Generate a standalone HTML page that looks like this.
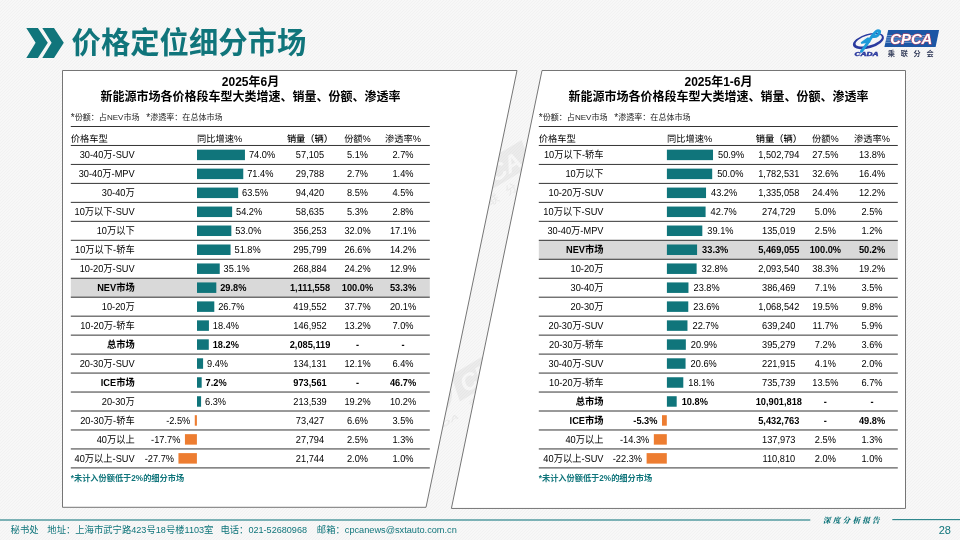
<!DOCTYPE html>
<html lang="zh-CN"><head><meta charset="utf-8"><title>价格定位细分市场</title>
<style>
html,body{margin:0;padding:0}
body{width:960px;height:540px;overflow:hidden;position:relative;background:#f4f4f4;font-family:"Liberation Sans","Noto Sans CJK SC",sans-serif;color:#000}
.bg{position:absolute;left:0;top:0;width:960px;height:540px;background:repeating-linear-gradient(135deg,#f2f2f2 0,#fafafa 1.0607px,#f2f2f2 2.1213px)}
.abs{position:absolute;white-space:nowrap}
.title{left:71.6px;top:21.75px;font-size:29.33px;line-height:42px;font-weight:bold;color:#10757b;transform:scaleY(1.02);transform-origin:0 50%}
.t1{font-size:12px;line-height:15px;font-weight:bold;text-align:center}
.sub{font-size:8.05px;line-height:12px;color:#222}
.as{font-size:10px;line-height:0;position:relative;top:0.8px}
.c{font-size:9.25px;transform:scaleY(1.1);text-rendering:geometricPrecision}
.h{font-size:9.25px;transform:none}
.hm{font-weight:500}
.b{font-weight:bold}
.fn{font-size:8.2px;line-height:12px;font-weight:bold;color:#10757b}
.foot{top:523px;font-size:9.33px;line-height:14px;color:#10757b}
.foot span{font-size:9.1px}
.rep{left:823px;top:513.5px;font-family:"Noto Serif CJK SC",serif;font-style:italic;font-weight:900;font-size:7.6px;line-height:12px;letter-spacing:2.2px;color:#10757b}
.pg{left:930px;width:21px;text-align:right;top:523px;font-size:11px;line-height:14px;color:#10757b}
</style></head><body>
<div class="bg"></div>
<svg class="abs" style="left:0;top:0" width="960" height="540" viewBox="0 0 960 540">
<defs>
<filter id="lb" x="-5%" y="-10%" width="110%" height="120%"><feGaussianBlur stdDeviation="0.35"/></filter>
<clipPath id="gap"><polygon points="515,70 545,70 454,508 424,508"/></clipPath>
</defs>
<polygon points="26.3,27.9 37.9,27.9 47.8,42.8 37.9,57.9 26.3,57.9 35.6,42.8" fill="#10757b"/>
<polygon points="42.3,27.9 54,27.9 63.8,42.8 54,57.9 42.3,57.9 51.6,42.8" fill="#10757b"/>
<g clip-path="url(#gap)">
<g transform="translate(473.2 193.2) rotate(-31.0) scale(1.60) translate(-896 -43)" opacity="0.052">
<g transform="rotate(-24 868.4 42.3)"><ellipse cx="868.4" cy="42.3" rx="15" ry="6.3" fill="none" stroke="#222" stroke-width="2.4"/></g>
<text x="854.6" y="55.6" font-family="Liberation Sans,sans-serif" font-weight="bold" font-style="italic" font-size="4.6" textLength="24.5" lengthAdjust="spacingAndGlyphs" fill="#222">CADA</text>
<polygon points="888.2,30.1 939.1,30.1 935.6,47 884.4,47" fill="#222"/>
<text x="890.3" y="44.3" font-family="Liberation Sans,sans-serif" font-weight="bold" font-style="italic" font-size="14.6" textLength="42" lengthAdjust="spacingAndGlyphs" fill="#fff">CPCA</text>
<text x="888.3" y="55.5" font-family="Noto Sans CJK SC,sans-serif" font-weight="500" font-size="7.2" letter-spacing="5.7" fill="#222">乘联分会</text>
</g>
<g transform="translate(472.5 386.5) rotate(-31.0) scale(1.60) translate(-896 -43)" opacity="0.052">
<g transform="rotate(-24 868.4 42.3)"><ellipse cx="868.4" cy="42.3" rx="15" ry="6.3" fill="none" stroke="#222" stroke-width="2.4"/></g>
<text x="854.6" y="55.6" font-family="Liberation Sans,sans-serif" font-weight="bold" font-style="italic" font-size="4.6" textLength="24.5" lengthAdjust="spacingAndGlyphs" fill="#222">CADA</text>
<polygon points="888.2,30.1 939.1,30.1 935.6,47 884.4,47" fill="#222"/>
<text x="890.3" y="44.3" font-family="Liberation Sans,sans-serif" font-weight="bold" font-style="italic" font-size="14.6" textLength="42" lengthAdjust="spacingAndGlyphs" fill="#fff">CPCA</text>
<text x="888.3" y="55.5" font-family="Noto Sans CJK SC,sans-serif" font-weight="500" font-size="7.2" letter-spacing="5.7" fill="#222">乘联分会</text>
</g>
</g>
<polygon points="62.5,70.5 517,70.5 426,507.3 62.5,507.3" fill="#fff" stroke="#757575" stroke-width="1"/>
<polygon points="542,70.5 905.5,70.5 905.5,508.45 451.4,508.45" fill="#fff" stroke="#757575" stroke-width="1"/>
<rect x="0" y="519.45" width="810.3" height="1.1" fill="#1a7c82"/>
<rect x="892.3" y="519.1" width="68" height="1.05" fill="#1a7c82"/>
<g filter="url(#lb)">
<g transform="rotate(-16 868.4 41.1)"><path fill-rule="evenodd" fill="#2b3a9f" d="M852.4,41.1 a16,7.2 0 1,0 32,0 a16,7.2 0 1,0 -32,0 z M855.3,40.5 a13.6,5 0 1,0 27.2,0 a13.6,5 0 1,0 -27.2,0 z"/></g>
<path d="M861.4,51.3 L866.2,45.2 C868.5,41.5 871,37.5 873.8,34 C875.5,31.8 877.6,30.4 878.9,30.9 C880.3,31.5 879.6,33.6 877.6,35.3 C876.3,36.4 875,36.8 873.6,36.6" fill="none" stroke="#1f9ad8" stroke-width="2.9" stroke-linecap="round" stroke-linejoin="round"/>
<path d="M868,38.4 L861.8,42.8 L869.4,41.7 Z" fill="#1f9ad8" stroke="#1f9ad8" stroke-width="2" stroke-linecap="round" stroke-linejoin="round"/>
<text x="854.6" y="55.6" font-family="Liberation Sans,sans-serif" font-weight="bold" font-style="italic" font-size="4.6" textLength="24" lengthAdjust="spacingAndGlyphs" fill="#2b3a9f" stroke="#2b3a9f" stroke-width="0.35">CADA</text>
<polygon points="888.2,30.1 939.1,30.1 935.6,47 884.4,47" fill="#1b57a5"/>
<g stroke="#b9d3f0" stroke-width="0.75" opacity="0.8">
<line x1="887" x2="926" y1="35.6" y2="35.6"/><line x1="886.5" x2="930" y1="37.8" y2="37.8"/><line x1="886" x2="930" y1="40" y2="40"/><line x1="885.5" x2="922" y1="42.3" y2="42.3"/>
</g>
<text x="890.3" y="44.3" font-family="Liberation Sans,sans-serif" font-weight="bold" font-style="italic" font-size="14.6" textLength="42" lengthAdjust="spacingAndGlyphs" fill="#fff" stroke="#e0455c" stroke-width="0.9" paint-order="stroke">CPCA</text>
<text x="887.8" y="55.5" font-family="Noto Sans CJK SC,sans-serif" font-weight="bold" font-size="7.2" letter-spacing="5.7" fill="#363f5c">乘联分会</text>
</g>
</svg>
<div class="abs title">价格定位细分市场</div>
<svg class="abs" style="left:0;top:0" width="960" height="540" viewBox="0 0 960 540">
<rect x="70.8" y="278.24" width="359.0" height="18.97" fill="#d9d9d9"/>
<line x1="70.8" x2="429.8" y1="126.50" y2="126.50" stroke="#000" stroke-width="0.80"/>
<line x1="70.8" x2="429.8" y1="145.47" y2="145.47" stroke="#000" stroke-width="0.80"/>
<line x1="70.8" x2="429.8" y1="164.43" y2="164.43" stroke="#000" stroke-width="0.80"/>
<line x1="70.8" x2="429.8" y1="183.40" y2="183.40" stroke="#000" stroke-width="0.80"/>
<line x1="70.8" x2="429.8" y1="202.37" y2="202.37" stroke="#000" stroke-width="0.80"/>
<line x1="70.8" x2="429.8" y1="221.33" y2="221.33" stroke="#000" stroke-width="0.80"/>
<line x1="70.8" x2="429.8" y1="240.30" y2="240.30" stroke="#000" stroke-width="0.80"/>
<line x1="70.8" x2="429.8" y1="259.27" y2="259.27" stroke="#000" stroke-width="0.80"/>
<line x1="70.8" x2="429.8" y1="278.24" y2="278.24" stroke="#000" stroke-width="0.80"/>
<line x1="70.8" x2="429.8" y1="297.20" y2="297.20" stroke="#000" stroke-width="0.80"/>
<line x1="70.8" x2="429.8" y1="316.17" y2="316.17" stroke="#000" stroke-width="0.80"/>
<line x1="70.8" x2="429.8" y1="335.14" y2="335.14" stroke="#000" stroke-width="0.80"/>
<line x1="70.8" x2="429.8" y1="354.10" y2="354.10" stroke="#000" stroke-width="0.80"/>
<line x1="70.8" x2="429.8" y1="373.07" y2="373.07" stroke="#000" stroke-width="0.80"/>
<line x1="70.8" x2="429.8" y1="392.04" y2="392.04" stroke="#000" stroke-width="0.80"/>
<line x1="70.8" x2="429.8" y1="411.00" y2="411.00" stroke="#000" stroke-width="0.80"/>
<line x1="70.8" x2="429.8" y1="429.97" y2="429.97" stroke="#000" stroke-width="0.80"/>
<line x1="70.8" x2="429.8" y1="448.94" y2="448.94" stroke="#000" stroke-width="0.80"/>
<line x1="70.8" x2="429.8" y1="467.91" y2="467.91" stroke="#000" stroke-width="0.80"/>
<rect x="197.00" y="149.65" width="47.95" height="10.5" fill="#10757b"/>
<rect x="197.00" y="168.62" width="46.27" height="10.5" fill="#10757b"/>
<rect x="197.00" y="187.58" width="41.15" height="10.5" fill="#10757b"/>
<rect x="197.00" y="206.55" width="35.12" height="10.5" fill="#10757b"/>
<rect x="197.00" y="225.52" width="34.34" height="10.5" fill="#10757b"/>
<rect x="197.00" y="244.49" width="33.57" height="10.5" fill="#10757b"/>
<rect x="197.00" y="263.45" width="22.74" height="10.5" fill="#10757b"/>
<rect x="197.00" y="282.42" width="19.31" height="10.5" fill="#10757b"/>
<rect x="197.00" y="301.39" width="17.30" height="10.5" fill="#10757b"/>
<rect x="197.00" y="320.35" width="11.92" height="10.5" fill="#10757b"/>
<rect x="197.00" y="339.32" width="11.79" height="10.5" fill="#10757b"/>
<rect x="197.00" y="358.29" width="6.09" height="10.5" fill="#10757b"/>
<rect x="197.00" y="377.25" width="4.67" height="10.5" fill="#10757b"/>
<rect x="197.00" y="396.22" width="4.08" height="10.5" fill="#10757b"/>
<rect x="194.78" y="415.19" width="2.12" height="10.5" fill="#ed7d31"/>
<rect x="184.93" y="434.16" width="11.97" height="10.5" fill="#ed7d31"/>
<rect x="178.45" y="453.12" width="18.45" height="10.5" fill="#ed7d31"/>
</svg>
<div class="abs t1" style="left:250.5px;top:75px;width:300px;margin-left:-150px">2025年6月</div>
<div class="abs t1" style="left:250.5px;top:89.7px;width:340px;margin-left:-170px">新能源市场各价格段车型大类增速、销量、份额、渗透率</div>
<div class="abs sub" style="left:70.8px;top:112.3px"><span class="as">*</span>份额：占NEV市场&nbsp;&nbsp;&nbsp;<span class="as">*</span>渗透率：在总体市场</div>
<div class="abs c h" style="left:70.8px;top:129.50px;height:18.97px;line-height:18.97px">价格车型</div>
<div class="abs c h" style="left:197.0px;top:129.50px;height:18.97px;line-height:18.97px">同比增速%</div>
<div class="abs c h hm" style="left:270.0px;width:80px;text-align:center;top:129.50px;height:18.97px;line-height:18.97px">销量（辆）</div>
<div class="abs c h" style="left:317.5px;width:80px;text-align:center;top:129.50px;height:18.97px;line-height:18.97px">份额%</div>
<div class="abs c h" style="left:363.0px;width:80px;text-align:center;top:129.50px;height:18.97px;line-height:18.97px">渗透率%</div>
<div class="abs c d" style="left:44.7px;width:90px;text-align:right;top:146.27px;height:18.97px;line-height:18.97px">30-40万-SUV</div>
<div class="abs c d" style="left:248.9px;top:146.27px;height:18.97px;line-height:18.97px">74.0%</div>
<div class="abs c d" style="left:270.0px;width:80px;text-align:center;top:146.27px;height:18.97px;line-height:18.97px">57,105</div>
<div class="abs c d" style="left:317.5px;width:80px;text-align:center;top:146.27px;height:18.97px;line-height:18.97px">5.1%</div>
<div class="abs c d" style="left:363.0px;width:80px;text-align:center;top:146.27px;height:18.97px;line-height:18.97px">2.7%</div>
<div class="abs c d" style="left:44.7px;width:90px;text-align:right;top:165.23px;height:18.97px;line-height:18.97px">30-40万-MPV</div>
<div class="abs c d" style="left:247.2px;top:165.23px;height:18.97px;line-height:18.97px">71.4%</div>
<div class="abs c d" style="left:270.0px;width:80px;text-align:center;top:165.23px;height:18.97px;line-height:18.97px">29,788</div>
<div class="abs c d" style="left:317.5px;width:80px;text-align:center;top:165.23px;height:18.97px;line-height:18.97px">2.7%</div>
<div class="abs c d" style="left:363.0px;width:80px;text-align:center;top:165.23px;height:18.97px;line-height:18.97px">1.4%</div>
<div class="abs c d" style="left:44.7px;width:90px;text-align:right;top:184.20px;height:18.97px;line-height:18.97px">30-40万</div>
<div class="abs c d" style="left:242.0px;top:184.20px;height:18.97px;line-height:18.97px">63.5%</div>
<div class="abs c d" style="left:270.0px;width:80px;text-align:center;top:184.20px;height:18.97px;line-height:18.97px">94,420</div>
<div class="abs c d" style="left:317.5px;width:80px;text-align:center;top:184.20px;height:18.97px;line-height:18.97px">8.5%</div>
<div class="abs c d" style="left:363.0px;width:80px;text-align:center;top:184.20px;height:18.97px;line-height:18.97px">4.5%</div>
<div class="abs c d" style="left:44.7px;width:90px;text-align:right;top:203.17px;height:18.97px;line-height:18.97px">10万以下-SUV</div>
<div class="abs c d" style="left:236.0px;top:203.17px;height:18.97px;line-height:18.97px">54.2%</div>
<div class="abs c d" style="left:270.0px;width:80px;text-align:center;top:203.17px;height:18.97px;line-height:18.97px">58,635</div>
<div class="abs c d" style="left:317.5px;width:80px;text-align:center;top:203.17px;height:18.97px;line-height:18.97px">5.3%</div>
<div class="abs c d" style="left:363.0px;width:80px;text-align:center;top:203.17px;height:18.97px;line-height:18.97px">2.8%</div>
<div class="abs c d" style="left:44.7px;width:90px;text-align:right;top:222.13px;height:18.97px;line-height:18.97px">10万以下</div>
<div class="abs c d" style="left:235.2px;top:222.13px;height:18.97px;line-height:18.97px">53.0%</div>
<div class="abs c d" style="left:270.0px;width:80px;text-align:center;top:222.13px;height:18.97px;line-height:18.97px">356,253</div>
<div class="abs c d" style="left:317.5px;width:80px;text-align:center;top:222.13px;height:18.97px;line-height:18.97px">32.0%</div>
<div class="abs c d" style="left:363.0px;width:80px;text-align:center;top:222.13px;height:18.97px;line-height:18.97px">17.1%</div>
<div class="abs c d" style="left:44.7px;width:90px;text-align:right;top:241.10px;height:18.97px;line-height:18.97px">10万以下-轿车</div>
<div class="abs c d" style="left:234.5px;top:241.10px;height:18.97px;line-height:18.97px">51.8%</div>
<div class="abs c d" style="left:270.0px;width:80px;text-align:center;top:241.10px;height:18.97px;line-height:18.97px">295,799</div>
<div class="abs c d" style="left:317.5px;width:80px;text-align:center;top:241.10px;height:18.97px;line-height:18.97px">26.6%</div>
<div class="abs c d" style="left:363.0px;width:80px;text-align:center;top:241.10px;height:18.97px;line-height:18.97px">14.2%</div>
<div class="abs c d" style="left:44.7px;width:90px;text-align:right;top:260.07px;height:18.97px;line-height:18.97px">10-20万-SUV</div>
<div class="abs c d" style="left:223.6px;top:260.07px;height:18.97px;line-height:18.97px">35.1%</div>
<div class="abs c d" style="left:270.0px;width:80px;text-align:center;top:260.07px;height:18.97px;line-height:18.97px">268,884</div>
<div class="abs c d" style="left:317.5px;width:80px;text-align:center;top:260.07px;height:18.97px;line-height:18.97px">24.2%</div>
<div class="abs c d" style="left:363.0px;width:80px;text-align:center;top:260.07px;height:18.97px;line-height:18.97px">12.9%</div>
<div class="abs c d b" style="left:44.7px;width:90px;text-align:right;top:279.04px;height:18.97px;line-height:18.97px">NEV市场</div>
<div class="abs c d b" style="left:220.2px;top:279.04px;height:18.97px;line-height:18.97px">29.8%</div>
<div class="abs c d b" style="left:270.0px;width:80px;text-align:center;top:279.04px;height:18.97px;line-height:18.97px">1,111,558</div>
<div class="abs c d b" style="left:317.5px;width:80px;text-align:center;top:279.04px;height:18.97px;line-height:18.97px">100.0%</div>
<div class="abs c d b" style="left:363.0px;width:80px;text-align:center;top:279.04px;height:18.97px;line-height:18.97px">53.3%</div>
<div class="abs c d" style="left:44.7px;width:90px;text-align:right;top:298.00px;height:18.97px;line-height:18.97px">10-20万</div>
<div class="abs c d" style="left:218.2px;top:298.00px;height:18.97px;line-height:18.97px">26.7%</div>
<div class="abs c d" style="left:270.0px;width:80px;text-align:center;top:298.00px;height:18.97px;line-height:18.97px">419,552</div>
<div class="abs c d" style="left:317.5px;width:80px;text-align:center;top:298.00px;height:18.97px;line-height:18.97px">37.7%</div>
<div class="abs c d" style="left:363.0px;width:80px;text-align:center;top:298.00px;height:18.97px;line-height:18.97px">20.1%</div>
<div class="abs c d" style="left:44.7px;width:90px;text-align:right;top:316.97px;height:18.97px;line-height:18.97px">10-20万-轿车</div>
<div class="abs c d" style="left:212.8px;top:316.97px;height:18.97px;line-height:18.97px">18.4%</div>
<div class="abs c d" style="left:270.0px;width:80px;text-align:center;top:316.97px;height:18.97px;line-height:18.97px">146,952</div>
<div class="abs c d" style="left:317.5px;width:80px;text-align:center;top:316.97px;height:18.97px;line-height:18.97px">13.2%</div>
<div class="abs c d" style="left:363.0px;width:80px;text-align:center;top:316.97px;height:18.97px;line-height:18.97px">7.0%</div>
<div class="abs c d b" style="left:44.7px;width:90px;text-align:right;top:335.94px;height:18.97px;line-height:18.97px">总市场</div>
<div class="abs c d b" style="left:212.7px;top:335.94px;height:18.97px;line-height:18.97px">18.2%</div>
<div class="abs c d b" style="left:270.0px;width:80px;text-align:center;top:335.94px;height:18.97px;line-height:18.97px">2,085,119</div>
<div class="abs c d b" style="left:317.5px;width:80px;text-align:center;top:335.94px;height:18.97px;line-height:18.97px">-</div>
<div class="abs c d b" style="left:363.0px;width:80px;text-align:center;top:335.94px;height:18.97px;line-height:18.97px">-</div>
<div class="abs c d" style="left:44.7px;width:90px;text-align:right;top:354.90px;height:18.97px;line-height:18.97px">20-30万-SUV</div>
<div class="abs c d" style="left:207.0px;top:354.90px;height:18.97px;line-height:18.97px">9.4%</div>
<div class="abs c d" style="left:270.0px;width:80px;text-align:center;top:354.90px;height:18.97px;line-height:18.97px">134,131</div>
<div class="abs c d" style="left:317.5px;width:80px;text-align:center;top:354.90px;height:18.97px;line-height:18.97px">12.1%</div>
<div class="abs c d" style="left:363.0px;width:80px;text-align:center;top:354.90px;height:18.97px;line-height:18.97px">6.4%</div>
<div class="abs c d b" style="left:44.7px;width:90px;text-align:right;top:373.87px;height:18.97px;line-height:18.97px">ICE市场</div>
<div class="abs c d b" style="left:205.6px;top:373.87px;height:18.97px;line-height:18.97px">7.2%</div>
<div class="abs c d b" style="left:270.0px;width:80px;text-align:center;top:373.87px;height:18.97px;line-height:18.97px">973,561</div>
<div class="abs c d b" style="left:317.5px;width:80px;text-align:center;top:373.87px;height:18.97px;line-height:18.97px">-</div>
<div class="abs c d b" style="left:363.0px;width:80px;text-align:center;top:373.87px;height:18.97px;line-height:18.97px">46.7%</div>
<div class="abs c d" style="left:44.7px;width:90px;text-align:right;top:392.84px;height:18.97px;line-height:18.97px">20-30万</div>
<div class="abs c d" style="left:205.0px;top:392.84px;height:18.97px;line-height:18.97px">6.3%</div>
<div class="abs c d" style="left:270.0px;width:80px;text-align:center;top:392.84px;height:18.97px;line-height:18.97px">213,539</div>
<div class="abs c d" style="left:317.5px;width:80px;text-align:center;top:392.84px;height:18.97px;line-height:18.97px">19.2%</div>
<div class="abs c d" style="left:363.0px;width:80px;text-align:center;top:392.84px;height:18.97px;line-height:18.97px">10.2%</div>
<div class="abs c d" style="left:44.7px;width:90px;text-align:right;top:411.81px;height:18.97px;line-height:18.97px">20-30万-轿车</div>
<div class="abs c d" style="left:130.3px;width:60px;text-align:right;top:411.81px;height:18.97px;line-height:18.97px">-2.5%</div>
<div class="abs c d" style="left:270.0px;width:80px;text-align:center;top:411.81px;height:18.97px;line-height:18.97px">73,427</div>
<div class="abs c d" style="left:317.5px;width:80px;text-align:center;top:411.81px;height:18.97px;line-height:18.97px">6.6%</div>
<div class="abs c d" style="left:363.0px;width:80px;text-align:center;top:411.81px;height:18.97px;line-height:18.97px">3.5%</div>
<div class="abs c d" style="left:44.7px;width:90px;text-align:right;top:430.77px;height:18.97px;line-height:18.97px">40万以上</div>
<div class="abs c d" style="left:120.4px;width:60px;text-align:right;top:430.77px;height:18.97px;line-height:18.97px">-17.7%</div>
<div class="abs c d" style="left:270.0px;width:80px;text-align:center;top:430.77px;height:18.97px;line-height:18.97px">27,794</div>
<div class="abs c d" style="left:317.5px;width:80px;text-align:center;top:430.77px;height:18.97px;line-height:18.97px">2.5%</div>
<div class="abs c d" style="left:363.0px;width:80px;text-align:center;top:430.77px;height:18.97px;line-height:18.97px">1.3%</div>
<div class="abs c d" style="left:44.7px;width:90px;text-align:right;top:449.74px;height:18.97px;line-height:18.97px">40万以上-SUV</div>
<div class="abs c d" style="left:114.0px;width:60px;text-align:right;top:449.74px;height:18.97px;line-height:18.97px">-27.7%</div>
<div class="abs c d" style="left:270.0px;width:80px;text-align:center;top:449.74px;height:18.97px;line-height:18.97px">21,744</div>
<div class="abs c d" style="left:317.5px;width:80px;text-align:center;top:449.74px;height:18.97px;line-height:18.97px">2.0%</div>
<div class="abs c d" style="left:363.0px;width:80px;text-align:center;top:449.74px;height:18.97px;line-height:18.97px">1.0%</div>
<div class="abs fn" style="left:70.8px;top:472.9px">*未计入份额低于2%的细分市场</div>
<svg class="abs" style="left:0;top:0" width="960" height="540" viewBox="0 0 960 540">
<rect x="538.8" y="240.30" width="359.0" height="18.97" fill="#d9d9d9"/>
<line x1="538.8" x2="897.8" y1="126.50" y2="126.50" stroke="#000" stroke-width="0.80"/>
<line x1="538.8" x2="897.8" y1="145.47" y2="145.47" stroke="#000" stroke-width="0.80"/>
<line x1="538.8" x2="897.8" y1="164.43" y2="164.43" stroke="#000" stroke-width="0.80"/>
<line x1="538.8" x2="897.8" y1="183.40" y2="183.40" stroke="#000" stroke-width="0.80"/>
<line x1="538.8" x2="897.8" y1="202.37" y2="202.37" stroke="#000" stroke-width="0.80"/>
<line x1="538.8" x2="897.8" y1="221.33" y2="221.33" stroke="#000" stroke-width="0.80"/>
<line x1="538.8" x2="897.8" y1="240.30" y2="240.30" stroke="#000" stroke-width="0.80"/>
<line x1="538.8" x2="897.8" y1="259.27" y2="259.27" stroke="#000" stroke-width="0.80"/>
<line x1="538.8" x2="897.8" y1="278.24" y2="278.24" stroke="#000" stroke-width="0.80"/>
<line x1="538.8" x2="897.8" y1="297.20" y2="297.20" stroke="#000" stroke-width="0.80"/>
<line x1="538.8" x2="897.8" y1="316.17" y2="316.17" stroke="#000" stroke-width="0.80"/>
<line x1="538.8" x2="897.8" y1="335.14" y2="335.14" stroke="#000" stroke-width="0.80"/>
<line x1="538.8" x2="897.8" y1="354.10" y2="354.10" stroke="#000" stroke-width="0.80"/>
<line x1="538.8" x2="897.8" y1="373.07" y2="373.07" stroke="#000" stroke-width="0.80"/>
<line x1="538.8" x2="897.8" y1="392.04" y2="392.04" stroke="#000" stroke-width="0.80"/>
<line x1="538.8" x2="897.8" y1="411.00" y2="411.00" stroke="#000" stroke-width="0.80"/>
<line x1="538.8" x2="897.8" y1="429.97" y2="429.97" stroke="#000" stroke-width="0.80"/>
<line x1="538.8" x2="897.8" y1="448.94" y2="448.94" stroke="#000" stroke-width="0.80"/>
<line x1="538.8" x2="897.8" y1="467.91" y2="467.91" stroke="#000" stroke-width="0.80"/>
<rect x="666.90" y="149.65" width="46.12" height="10.5" fill="#10757b"/>
<rect x="666.90" y="168.62" width="45.30" height="10.5" fill="#10757b"/>
<rect x="666.90" y="187.58" width="39.14" height="10.5" fill="#10757b"/>
<rect x="666.90" y="206.55" width="38.69" height="10.5" fill="#10757b"/>
<rect x="666.90" y="225.52" width="35.42" height="10.5" fill="#10757b"/>
<rect x="666.90" y="244.49" width="30.17" height="10.5" fill="#10757b"/>
<rect x="666.90" y="263.45" width="29.72" height="10.5" fill="#10757b"/>
<rect x="666.90" y="282.42" width="21.56" height="10.5" fill="#10757b"/>
<rect x="666.90" y="301.39" width="21.38" height="10.5" fill="#10757b"/>
<rect x="666.90" y="320.35" width="20.57" height="10.5" fill="#10757b"/>
<rect x="666.90" y="339.32" width="18.94" height="10.5" fill="#10757b"/>
<rect x="666.90" y="358.29" width="18.66" height="10.5" fill="#10757b"/>
<rect x="666.90" y="377.25" width="16.40" height="10.5" fill="#10757b"/>
<rect x="666.90" y="396.22" width="9.78" height="10.5" fill="#10757b"/>
<rect x="662.00" y="415.19" width="4.80" height="10.5" fill="#ed7d31"/>
<rect x="653.84" y="434.16" width="12.96" height="10.5" fill="#ed7d31"/>
<rect x="646.60" y="453.12" width="20.20" height="10.5" fill="#ed7d31"/>
</svg>
<div class="abs t1" style="left:718.5px;top:75px;width:300px;margin-left:-150px">2025年1-6月</div>
<div class="abs t1" style="left:718.5px;top:89.7px;width:340px;margin-left:-170px">新能源市场各价格段车型大类增速、销量、份额、渗透率</div>
<div class="abs sub" style="left:538.8px;top:112.3px"><span class="as">*</span>份额：占NEV市场&nbsp;&nbsp;&nbsp;<span class="as">*</span>渗透率：在总体市场</div>
<div class="abs c h" style="left:538.8px;top:129.50px;height:18.97px;line-height:18.97px">价格车型</div>
<div class="abs c h" style="left:666.9px;top:129.50px;height:18.97px;line-height:18.97px">同比增速%</div>
<div class="abs c h hm" style="left:738.8px;width:80px;text-align:center;top:129.50px;height:18.97px;line-height:18.97px">销量（辆）</div>
<div class="abs c h" style="left:785.4px;width:80px;text-align:center;top:129.50px;height:18.97px;line-height:18.97px">份额%</div>
<div class="abs c h" style="left:832.0px;width:80px;text-align:center;top:129.50px;height:18.97px;line-height:18.97px">渗透率%</div>
<div class="abs c d" style="left:513.5px;width:90px;text-align:right;top:146.27px;height:18.97px;line-height:18.97px">10万以下-轿车</div>
<div class="abs c d" style="left:718.0px;top:146.27px;height:18.97px;line-height:18.97px">50.9%</div>
<div class="abs c d" style="left:738.8px;width:80px;text-align:center;top:146.27px;height:18.97px;line-height:18.97px">1,502,794</div>
<div class="abs c d" style="left:785.4px;width:80px;text-align:center;top:146.27px;height:18.97px;line-height:18.97px">27.5%</div>
<div class="abs c d" style="left:832.0px;width:80px;text-align:center;top:146.27px;height:18.97px;line-height:18.97px">13.8%</div>
<div class="abs c d" style="left:513.5px;width:90px;text-align:right;top:165.23px;height:18.97px;line-height:18.97px">10万以下</div>
<div class="abs c d" style="left:717.2px;top:165.23px;height:18.97px;line-height:18.97px">50.0%</div>
<div class="abs c d" style="left:738.8px;width:80px;text-align:center;top:165.23px;height:18.97px;line-height:18.97px">1,782,531</div>
<div class="abs c d" style="left:785.4px;width:80px;text-align:center;top:165.23px;height:18.97px;line-height:18.97px">32.6%</div>
<div class="abs c d" style="left:832.0px;width:80px;text-align:center;top:165.23px;height:18.97px;line-height:18.97px">16.4%</div>
<div class="abs c d" style="left:513.5px;width:90px;text-align:right;top:184.20px;height:18.97px;line-height:18.97px">10-20万-SUV</div>
<div class="abs c d" style="left:711.0px;top:184.20px;height:18.97px;line-height:18.97px">43.2%</div>
<div class="abs c d" style="left:738.8px;width:80px;text-align:center;top:184.20px;height:18.97px;line-height:18.97px">1,335,058</div>
<div class="abs c d" style="left:785.4px;width:80px;text-align:center;top:184.20px;height:18.97px;line-height:18.97px">24.4%</div>
<div class="abs c d" style="left:832.0px;width:80px;text-align:center;top:184.20px;height:18.97px;line-height:18.97px">12.2%</div>
<div class="abs c d" style="left:513.5px;width:90px;text-align:right;top:203.17px;height:18.97px;line-height:18.97px">10万以下-SUV</div>
<div class="abs c d" style="left:710.6px;top:203.17px;height:18.97px;line-height:18.97px">42.7%</div>
<div class="abs c d" style="left:738.8px;width:80px;text-align:center;top:203.17px;height:18.97px;line-height:18.97px">274,729</div>
<div class="abs c d" style="left:785.4px;width:80px;text-align:center;top:203.17px;height:18.97px;line-height:18.97px">5.0%</div>
<div class="abs c d" style="left:832.0px;width:80px;text-align:center;top:203.17px;height:18.97px;line-height:18.97px">2.5%</div>
<div class="abs c d" style="left:513.5px;width:90px;text-align:right;top:222.13px;height:18.97px;line-height:18.97px">30-40万-MPV</div>
<div class="abs c d" style="left:707.3px;top:222.13px;height:18.97px;line-height:18.97px">39.1%</div>
<div class="abs c d" style="left:738.8px;width:80px;text-align:center;top:222.13px;height:18.97px;line-height:18.97px">135,019</div>
<div class="abs c d" style="left:785.4px;width:80px;text-align:center;top:222.13px;height:18.97px;line-height:18.97px">2.5%</div>
<div class="abs c d" style="left:832.0px;width:80px;text-align:center;top:222.13px;height:18.97px;line-height:18.97px">1.2%</div>
<div class="abs c d b" style="left:513.5px;width:90px;text-align:right;top:241.10px;height:18.97px;line-height:18.97px">NEV市场</div>
<div class="abs c d b" style="left:702.1px;top:241.10px;height:18.97px;line-height:18.97px">33.3%</div>
<div class="abs c d b" style="left:738.8px;width:80px;text-align:center;top:241.10px;height:18.97px;line-height:18.97px">5,469,055</div>
<div class="abs c d b" style="left:785.4px;width:80px;text-align:center;top:241.10px;height:18.97px;line-height:18.97px">100.0%</div>
<div class="abs c d b" style="left:832.0px;width:80px;text-align:center;top:241.10px;height:18.97px;line-height:18.97px">50.2%</div>
<div class="abs c d" style="left:513.5px;width:90px;text-align:right;top:260.07px;height:18.97px;line-height:18.97px">10-20万</div>
<div class="abs c d" style="left:701.6px;top:260.07px;height:18.97px;line-height:18.97px">32.8%</div>
<div class="abs c d" style="left:738.8px;width:80px;text-align:center;top:260.07px;height:18.97px;line-height:18.97px">2,093,540</div>
<div class="abs c d" style="left:785.4px;width:80px;text-align:center;top:260.07px;height:18.97px;line-height:18.97px">38.3%</div>
<div class="abs c d" style="left:832.0px;width:80px;text-align:center;top:260.07px;height:18.97px;line-height:18.97px">19.2%</div>
<div class="abs c d" style="left:513.5px;width:90px;text-align:right;top:279.04px;height:18.97px;line-height:18.97px">30-40万</div>
<div class="abs c d" style="left:693.5px;top:279.04px;height:18.97px;line-height:18.97px">23.8%</div>
<div class="abs c d" style="left:738.8px;width:80px;text-align:center;top:279.04px;height:18.97px;line-height:18.97px">386,469</div>
<div class="abs c d" style="left:785.4px;width:80px;text-align:center;top:279.04px;height:18.97px;line-height:18.97px">7.1%</div>
<div class="abs c d" style="left:832.0px;width:80px;text-align:center;top:279.04px;height:18.97px;line-height:18.97px">3.5%</div>
<div class="abs c d" style="left:513.5px;width:90px;text-align:right;top:298.00px;height:18.97px;line-height:18.97px">20-30万</div>
<div class="abs c d" style="left:693.3px;top:298.00px;height:18.97px;line-height:18.97px">23.6%</div>
<div class="abs c d" style="left:738.8px;width:80px;text-align:center;top:298.00px;height:18.97px;line-height:18.97px">1,068,542</div>
<div class="abs c d" style="left:785.4px;width:80px;text-align:center;top:298.00px;height:18.97px;line-height:18.97px">19.5%</div>
<div class="abs c d" style="left:832.0px;width:80px;text-align:center;top:298.00px;height:18.97px;line-height:18.97px">9.8%</div>
<div class="abs c d" style="left:513.5px;width:90px;text-align:right;top:316.97px;height:18.97px;line-height:18.97px">20-30万-SUV</div>
<div class="abs c d" style="left:692.5px;top:316.97px;height:18.97px;line-height:18.97px">22.7%</div>
<div class="abs c d" style="left:738.8px;width:80px;text-align:center;top:316.97px;height:18.97px;line-height:18.97px">639,240</div>
<div class="abs c d" style="left:785.4px;width:80px;text-align:center;top:316.97px;height:18.97px;line-height:18.97px">11.7%</div>
<div class="abs c d" style="left:832.0px;width:80px;text-align:center;top:316.97px;height:18.97px;line-height:18.97px">5.9%</div>
<div class="abs c d" style="left:513.5px;width:90px;text-align:right;top:335.94px;height:18.97px;line-height:18.97px">20-30万-轿车</div>
<div class="abs c d" style="left:690.8px;top:335.94px;height:18.97px;line-height:18.97px">20.9%</div>
<div class="abs c d" style="left:738.8px;width:80px;text-align:center;top:335.94px;height:18.97px;line-height:18.97px">395,279</div>
<div class="abs c d" style="left:785.4px;width:80px;text-align:center;top:335.94px;height:18.97px;line-height:18.97px">7.2%</div>
<div class="abs c d" style="left:832.0px;width:80px;text-align:center;top:335.94px;height:18.97px;line-height:18.97px">3.6%</div>
<div class="abs c d" style="left:513.5px;width:90px;text-align:right;top:354.90px;height:18.97px;line-height:18.97px">30-40万-SUV</div>
<div class="abs c d" style="left:690.6px;top:354.90px;height:18.97px;line-height:18.97px">20.6%</div>
<div class="abs c d" style="left:738.8px;width:80px;text-align:center;top:354.90px;height:18.97px;line-height:18.97px">221,915</div>
<div class="abs c d" style="left:785.4px;width:80px;text-align:center;top:354.90px;height:18.97px;line-height:18.97px">4.1%</div>
<div class="abs c d" style="left:832.0px;width:80px;text-align:center;top:354.90px;height:18.97px;line-height:18.97px">2.0%</div>
<div class="abs c d" style="left:513.5px;width:90px;text-align:right;top:373.87px;height:18.97px;line-height:18.97px">10-20万-轿车</div>
<div class="abs c d" style="left:688.3px;top:373.87px;height:18.97px;line-height:18.97px">18.1%</div>
<div class="abs c d" style="left:738.8px;width:80px;text-align:center;top:373.87px;height:18.97px;line-height:18.97px">735,739</div>
<div class="abs c d" style="left:785.4px;width:80px;text-align:center;top:373.87px;height:18.97px;line-height:18.97px">13.5%</div>
<div class="abs c d" style="left:832.0px;width:80px;text-align:center;top:373.87px;height:18.97px;line-height:18.97px">6.7%</div>
<div class="abs c d b" style="left:513.5px;width:90px;text-align:right;top:392.84px;height:18.97px;line-height:18.97px">总市场</div>
<div class="abs c d b" style="left:681.7px;top:392.84px;height:18.97px;line-height:18.97px">10.8%</div>
<div class="abs c d b" style="left:738.8px;width:80px;text-align:center;top:392.84px;height:18.97px;line-height:18.97px">10,901,818</div>
<div class="abs c d b" style="left:785.4px;width:80px;text-align:center;top:392.84px;height:18.97px;line-height:18.97px">-</div>
<div class="abs c d b" style="left:832.0px;width:80px;text-align:center;top:392.84px;height:18.97px;line-height:18.97px">-</div>
<div class="abs c d b" style="left:513.5px;width:90px;text-align:right;top:411.81px;height:18.97px;line-height:18.97px">ICE市场</div>
<div class="abs c d b" style="left:597.5px;width:60px;text-align:right;top:411.81px;height:18.97px;line-height:18.97px">-5.3%</div>
<div class="abs c d b" style="left:738.8px;width:80px;text-align:center;top:411.81px;height:18.97px;line-height:18.97px">5,432,763</div>
<div class="abs c d b" style="left:785.4px;width:80px;text-align:center;top:411.81px;height:18.97px;line-height:18.97px">-</div>
<div class="abs c d b" style="left:832.0px;width:80px;text-align:center;top:411.81px;height:18.97px;line-height:18.97px">49.8%</div>
<div class="abs c d" style="left:513.5px;width:90px;text-align:right;top:430.77px;height:18.97px;line-height:18.97px">40万以上</div>
<div class="abs c d" style="left:589.3px;width:60px;text-align:right;top:430.77px;height:18.97px;line-height:18.97px">-14.3%</div>
<div class="abs c d" style="left:738.8px;width:80px;text-align:center;top:430.77px;height:18.97px;line-height:18.97px">137,973</div>
<div class="abs c d" style="left:785.4px;width:80px;text-align:center;top:430.77px;height:18.97px;line-height:18.97px">2.5%</div>
<div class="abs c d" style="left:832.0px;width:80px;text-align:center;top:430.77px;height:18.97px;line-height:18.97px">1.3%</div>
<div class="abs c d" style="left:513.5px;width:90px;text-align:right;top:449.74px;height:18.97px;line-height:18.97px">40万以上-SUV</div>
<div class="abs c d" style="left:582.1px;width:60px;text-align:right;top:449.74px;height:18.97px;line-height:18.97px">-22.3%</div>
<div class="abs c d" style="left:738.8px;width:80px;text-align:center;top:449.74px;height:18.97px;line-height:18.97px">110,810</div>
<div class="abs c d" style="left:785.4px;width:80px;text-align:center;top:449.74px;height:18.97px;line-height:18.97px">2.0%</div>
<div class="abs c d" style="left:832.0px;width:80px;text-align:center;top:449.74px;height:18.97px;line-height:18.97px">1.0%</div>
<div class="abs fn" style="left:538.8px;top:472.9px">*未计入份额低于2%的细分市场</div>
<div class="abs foot" style="left:10.6px">秘书处</div>
<div class="abs foot" style="left:47.3px">地址：上海市武宁路<span>423</span>号<span>18</span>号楼<span>1103</span>室</div>
<div class="abs foot" style="left:220.4px">电话：<span>021-52680968</span></div>
<div class="abs foot" style="left:316.8px">邮箱：<span style="font-size:9.2px">cpcanews@sxtauto.com.cn</span></div>
<div class="abs rep">深度分析报告</div>
<div class="abs pg">28</div>
</body></html>
